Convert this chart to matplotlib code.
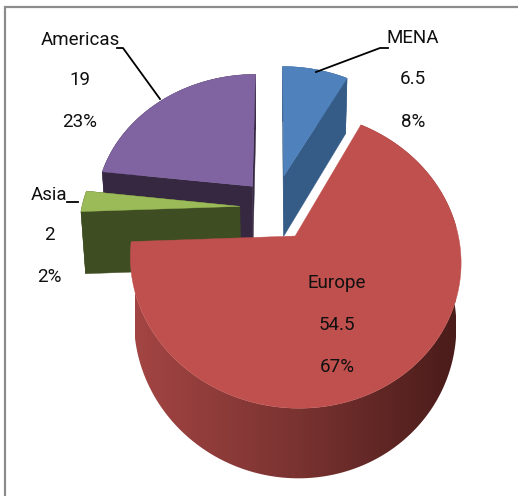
import numpy as np
import matplotlib
matplotlib.use("Agg")
import matplotlib.pyplot as plt
from matplotlib.colors import LinearSegmentedColormap
from matplotlib.patches import Polygon

categories = ["MENA", "Europe", "Asia", "Americas"]
values = [6.5, 54.5, 2, 19]
percent_labels = ["8%", "67%", "2%", "23%"]
top_colors = ["#4F81BD", "#C0504D", "#9BBB59", "#8064A2"]
side_colors = ["#355C86", "#7A3331", "#3F4D23", "#372841"]
explode = [0.25, 0.24, 0.22, 0.215]

# 3-D view
ELEV = np.radians(59.0)
DIST = 3.3
SCALE = 158.0
CX, CY = 274.5, 207.5
HEIGHT = 0.78
Z_PERSP = 0.12
family = "Roboto"


def project(x, y, z=0.0):
    x, y = np.asarray(x, float), np.asarray(y, float)
    v = y * np.sin(ELEV) + z * np.cos(ELEV)
    w = DIST + y * np.cos(ELEV) - Z_PERSP * z * np.sin(ELEV)
    return CX + SCALE * DIST * x / w, CY - SCALE * DIST * v / w


fig = plt.figure(figsize=(5.18, 4.96), dpi=100)
ax = fig.add_axes([0, 0, 1, 1])
ax.axis("off")

# frame
ax.plot([5, 5, 518], [496, 7, 7], color="#8C8C8C", lw=1.6, solid_joinstyle="miter", zorder=1)

wall_cmap = LinearSegmentedColormap.from_list("wall", ["#A34543", "#7A3331", "#4A1C1A"])

fractions = np.array(values) / sum(values)
ends = np.cumsum(fractions) * 2 * np.pi
starts = ends - fractions * 2 * np.pi
draw_order = [3, 0, 2, 1]
z = 2
for i in draw_order:
    a0, a1 = starts[i], ends[i]
    mid = (a0 + a1) / 2
    ox, oy = explode[i] * np.sin(mid), explode[i] * np.cos(mid)
    t = np.linspace(a0, a1, 200)
    ax_x, ax_y = ox + np.sin(t), oy + np.cos(t)
    px, py = project(ox, oy)
    bx, by = project(ox, oy, -HEIGHT)
    tx, ty = project(ax_x, ax_y)
    ux, uy = project(ax_x, ax_y, -HEIGHT)
    # radial faces
    if categories[i] != "Europe":
        for k in (0, -1):
            ax.fill([px, tx[k], ux[k], bx], [py, ty[k], uy[k], by],
                    color=side_colors[i], lw=0.3, zorder=z)
    # outer wall
    if categories[i] == "Europe":
        wall = Polygon(np.c_[np.r_[tx, ux[::-1]], np.r_[ty, uy[::-1]]],
                       closed=True, transform=ax.transData, fc="none", ec="none")
        ax.add_patch(wall)
        grad = np.linspace(0, 1, 256)[None, :]
        im = ax.imshow(grad, cmap=wall_cmap, extent=(135, 456, 496, 0), aspect="auto",
                       zorder=z, interpolation="bilinear")
        im.set_clip_path(wall)
    else:
        ax.fill(np.r_[tx, ux[::-1]], np.r_[ty, uy[::-1]],
                color=side_colors[i], lw=0.3, zorder=z)
    # top face
    ax.fill(np.r_[px, tx], np.r_[py, ty], color=top_colors[i], lw=0.3, zorder=z + 1)
    z += 2

# leaders
lk = dict(color="black", lw=1.3, zorder=20)
ax.plot([117, 123, 160], [48, 48, 99], **lk)
ax.plot([388, 380, 316], [48, 48, 72], **lk)
ax.plot([67, 78], [202, 202], **lk)

# labels
label_pos = {"MENA": (413, [38, 79, 122]), "Europe": (337, [283, 325, 367]),
             "Asia": (49, [195, 235, 277]), "Americas": (80, [40, 80, 122])}
for name, val, pct in zip(categories, values, percent_labels):
    x, ys = label_pos[name]
    for s, y in zip([name, f"{val:g}", pct], ys):
        ax.text(x, y, s, ha="center", va="center", fontsize=13.5,
                family=family, color="#101010", zorder=21)

ax.set_xlim(0, 518)
ax.set_ylim(496, 0)
fig.savefig("out.png", dpi=100)
